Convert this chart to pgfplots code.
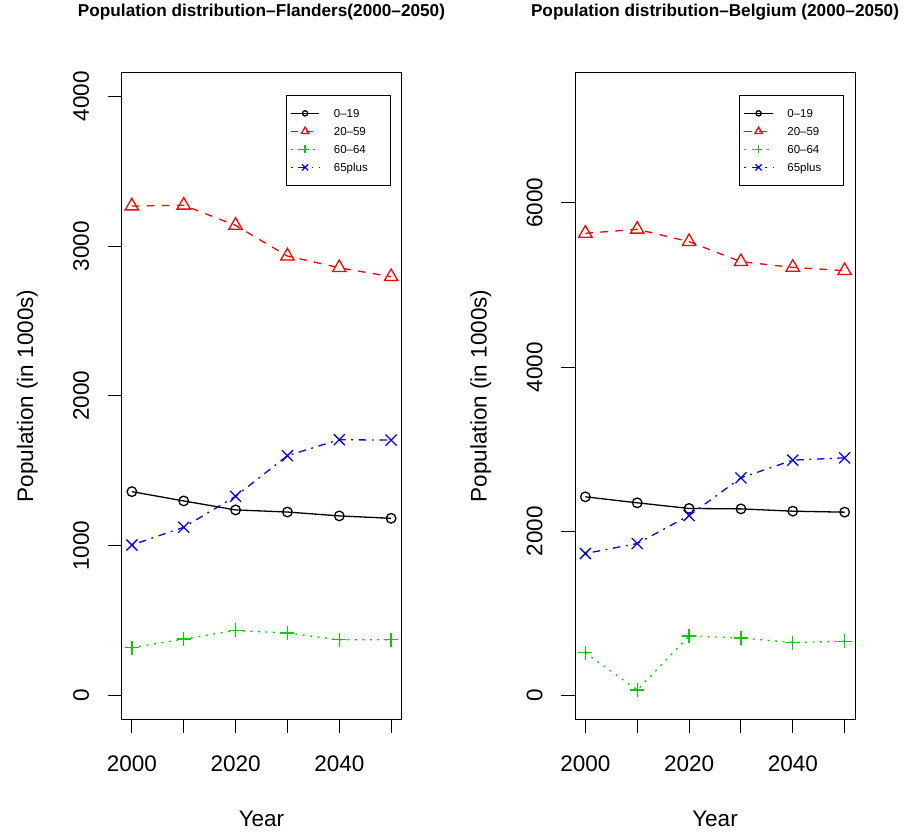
\documentclass[border=0pt]{standalone}
\usepackage{pgfplots}
\pgfplotsset{compat=1.18}
\usepackage{fontspec}
\setmainfont{Liberation Sans}
\definecolor{rred}{HTML}{FF0000}
\definecolor{rgreen}{HTML}{00CD00}
\definecolor{rblue}{HTML}{0000FF}
\pgfplotsset{
  rstyle/.style={
    scale only axis, width=280pt, height=647pt,
    axis line style={line width=1pt},
    xmin=1998, xmax=2052,
    xtick={2000,2010,2020,2030,2040,2050},
    xticklabels={2000,,2020,,2040,},
    tick align=outside, xtick pos=bottom, ytick pos=left,
    major tick length=14pt,
    tick style={line width=1pt, black},
    tick label style={font=\fontsize{22.5}{27}\selectfont},
    xticklabel style={anchor=base, inner sep=0pt, yshift=-37.7pt},
    yticklabel style={anchor=east, inner sep=0pt, xshift=-18.2pt},
    label style={font=\fontsize{22.5}{27}\selectfont},
    xlabel={Year}, ylabel={Population (in 1000s)},
    xlabel style={at={(axis description cs:0.5,-0.165)}, anchor=base},
    ylabel style={at={(axis description cs:-0.316,0.5)}, anchor=base},
    title style={at={(axis description cs:0.5,1)}, anchor=base, yshift=49.8pt, font=\bfseries\fontsize{17.2}{20}\selectfont},
    legend style={at={(axis description cs:0.96,0.965)}, anchor=north east,
      draw=black, line width=0.8pt, inner xsep=4.4pt, inner ysep=9pt,
      column sep=14pt, row sep=0pt,
      font=\fontsize{11.5}{14}\selectfont,
      nodes={inner sep=0pt, text height=13.1pt, text depth=4.9pt, text width=51.6pt, align=left}},
    legend cell align=left,
    legend image code/.code={\draw[mark repeat=2,mark phase=2,#1, every mark/.append style={scale=0.55}] plot coordinates {(0pt,0pt) (14.15pt,0pt) (28.3pt,0pt)};},
    every axis plot/.append style={line width=1.3pt},
  },
  s1/.style={black, solid, mark=o, mark size=4.8pt, mark options={solid}},
  s2/.style={rred, dash pattern=on 7.5pt off 7.5pt, mark=triangle, mark size=7.7pt, mark options={solid}},
  s3/.style={rgreen, dash pattern=on 1.9pt off 5.6pt, mark=+, mark size=7pt, mark options={solid}},
  s4/.style={rblue, dash pattern=on 1.9pt off 5.6pt on 7.5pt off 5.6pt, mark=x, mark size=7.8pt, mark options={solid}},
}
\begin{document}
\begin{tikzpicture}
\path[use as bounding box] (0pt,0pt) rectangle (907pt,832pt);
\begin{axis}[rstyle, at={(121.5pt,112.7pt)}, anchor=south west,
  title={Population distribution–Flanders(2000–2050)},
  ymin=-160, ymax=4160,
  ytick={0,1000,2000,3000,4000},
  yticklabels={\rotatebox{90}{0},\rotatebox{90}{1000},\rotatebox{90}{2000},\rotatebox{90}{3000},\rotatebox{90}{4000}},
]
\addplot[s1] coordinates {(2000,1360) (2010,1298) (2020,1238) (2030,1224) (2040,1198) (2050,1182)};
\addlegendentry{0–19}
\addplot[s2] coordinates {(2000,3267) (2010,3272) (2020,3138) (2030,2933) (2040,2855) (2050,2795)};
\addlegendentry{20–59}
\addplot[s3] coordinates {(2000,318) (2010,376) (2020,433) (2030,416) (2040,371) (2050,371)};
\addlegendentry{60–64}
\addplot[s4] coordinates {(2000,1004) (2010,1122) (2020,1329) (2030,1600) (2040,1707) (2050,1704)};
\addlegendentry{65plus}
\end{axis}
\begin{axis}[rstyle, at={(575pt,112.7pt)}, anchor=south west,
  title={Population distribution–Belgium (2000–2050)},
  ymin=-292, ymax=7592,
  ytick={0,2000,4000,6000},
  yticklabels={\rotatebox{90}{0},\rotatebox{90}{2000},\rotatebox{90}{4000},\rotatebox{90}{6000}},
]
\addplot[s1] coordinates {(2000,2419) (2010,2346) (2020,2277) (2030,2272) (2040,2244) (2050,2232)};
\addlegendentry{0–19}
\addplot[s2] coordinates {(2000,5630) (2010,5679) (2020,5528) (2030,5284) (2040,5215) (2050,5175)};
\addlegendentry{20–59}
\addplot[s3] coordinates {(2000,520) (2010,65) (2020,723) (2030,699) (2040,643) (2050,659)};
\addlegendentry{60–64}
\addplot[s4] coordinates {(2000,1728) (2010,1850) (2020,2191) (2030,2650) (2040,2866) (2050,2894)};
\addlegendentry{65plus}
\end{axis}
\end{tikzpicture}
\end{document}
